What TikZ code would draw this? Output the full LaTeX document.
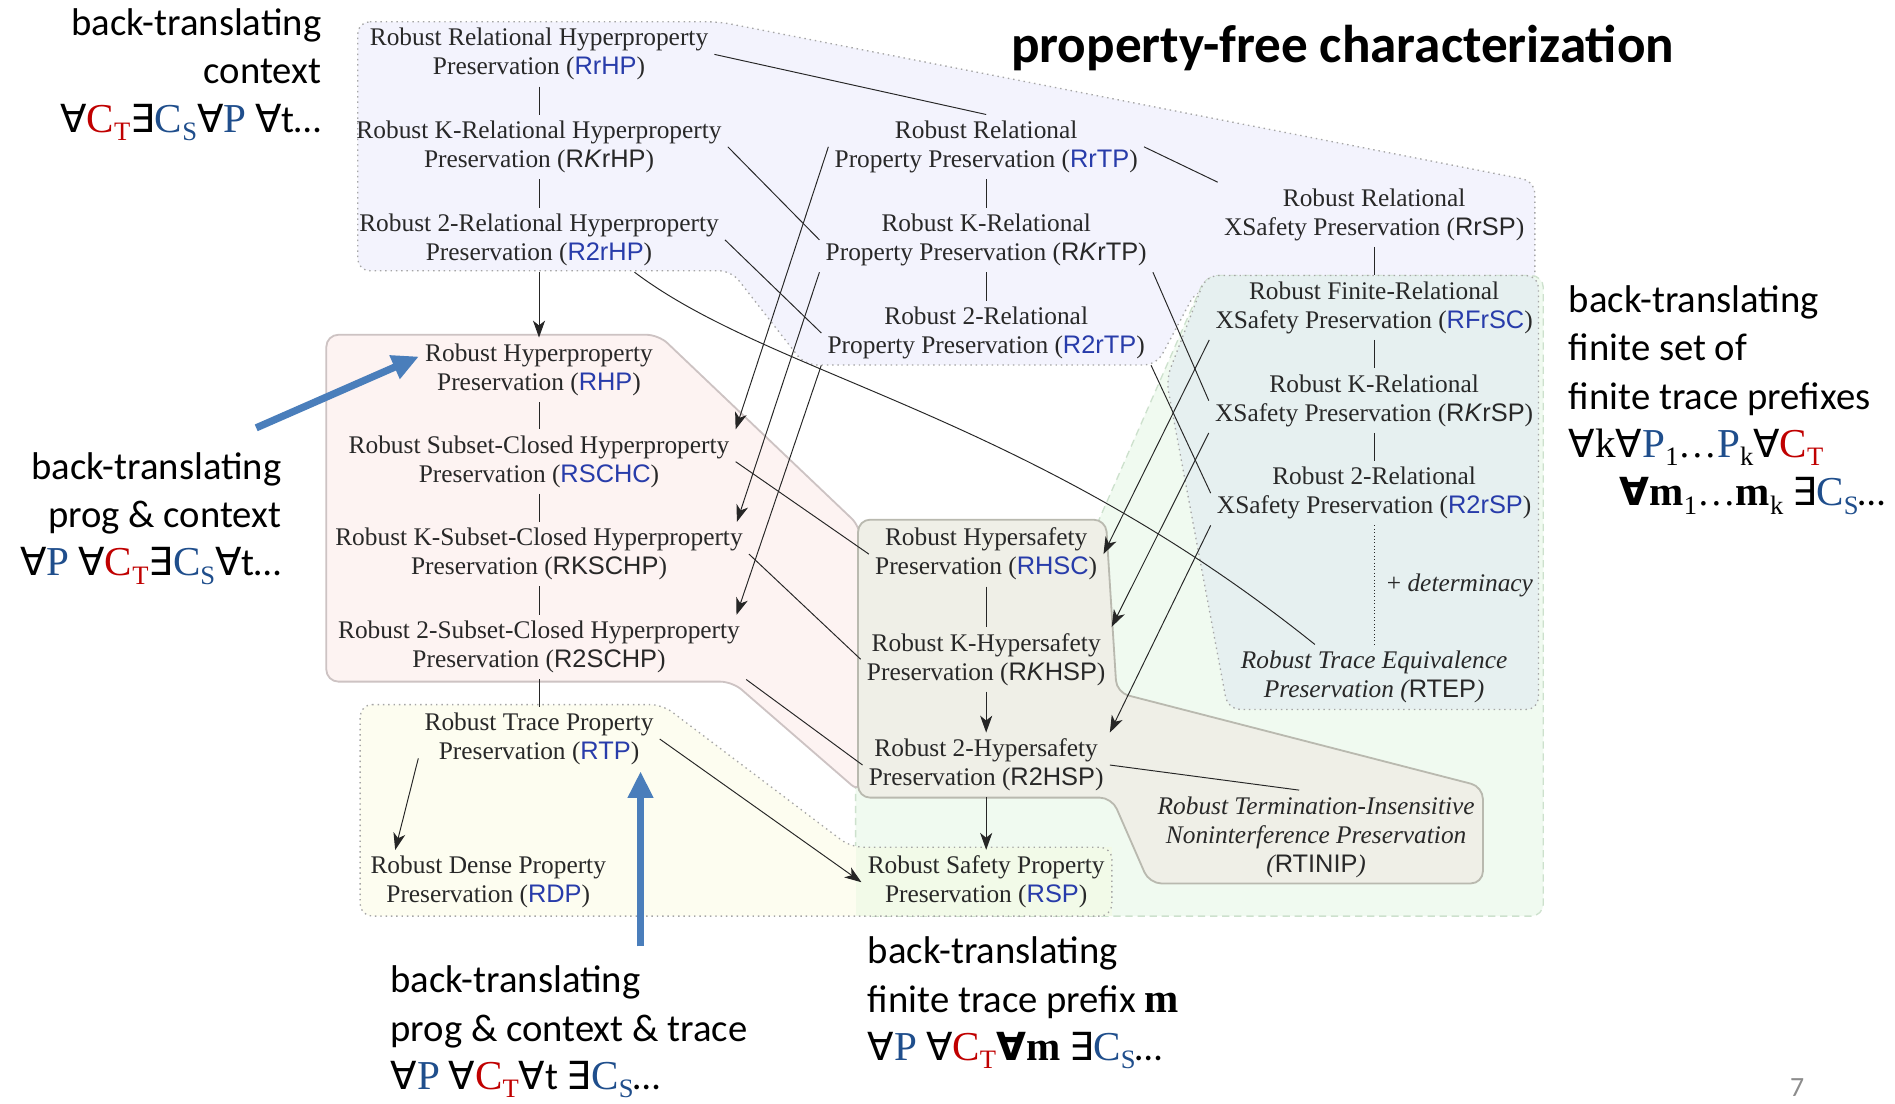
\documentclass[tikz,border=0pt]{standalone}
\usepackage{fontspec}
\usepackage{graphicx}
\setmainfont{Liberation Serif}
\setsansfont{Liberation Sans}
\newfontfamily\calib{Carlito}
\newfontfamily\symf{DejaVu Sans}
\newfontfamily\serif{Liberation Serif}
\usetikzlibrary{arrows.meta}

\definecolor{txt}{RGB}{40,40,40}
\definecolor{acr}{RGB}{40,60,170}
\definecolor{cred}{RGB}{192,0,0}
\definecolor{cblu}{RGB}{31,78,140}
\definecolor{fblue}{RGB}{243,243,253}
\definecolor{fgreen}{RGB}{240,250,240}
\definecolor{fteal}{RGB}{230,240,240}
\definecolor{fpink}{RGB}{253,243,242}
\definecolor{fyel}{RGB}{253,253,240}
\definecolor{frsp}{RGB}{242,250,232}
\definecolor{fgray}{RGB}{239,239,231}
\definecolor{pinkb}{RGB}{205,195,195}
\definecolor{grayb}{RGB}{185,185,175}
\definecolor{greenb}{RGB}{205,225,205}
\definecolor{arrblue}{RGB}{74,126,187}

\newcommand\propfont{\fontsize{21}{24}\selectfont}
\newcommand\acB[1]{{\sffamily\upshape\color{acr}#1}}
\newcommand\acK[1]{{\sffamily\upshape #1}}
\newcommand\qA{{\symf ∀}}
\newcommand\qE{{\symf ∃}}
\newcommand\lowsub[1]{\raisebox{-7pt}{\serif\fontsize{22}{22}\selectfont #1}}
\newcommand\bigser{\serif\fontsize{34}{34}\selectfont}
\newcommand\cT{{\bigser\color{cred}C\lowsub{T}}}
\newcommand\cS{{\bigser\color{cblu}C\lowsub{S}}}
\newcommand\pP{{\bigser\color{cblu}P}}
\newcommand\bm{{\bigser\bfseries m}}

\tikzset{
  prop/.style={align=center, font=\propfont, text=txt, inner sep=5pt, yshift=-2.5pt},
  conn/.style={line width=0.8pt, draw=black!85},
  arr/.style={conn, -{Stealth[length=14pt,width=10pt,inset=4pt]}},
  barr/.style={line width=6pt, draw=arrblue, -{Triangle[length=22pt,width=20pt]}},
  region/.style={rounded corners=10pt, line width=1.1pt},
  dotb/.style={draw=black!35, dash pattern=on 1.2pt off 3.2pt},
  ann/.style={font=\calib\fontsize{32}{40}\selectfont, inner sep=0pt, text=black},
}

\begin{document}
\begin{tikzpicture}[x=1pt,y=-1pt]
\useasboundingbox[fill=white] (0,0) rectangle (1568,913);

% shaded families of criteria
\path[region, fill=fblue, dotb] (296,18) -- (595,18) -- (1270,150) -- (1270,240)
  -- (990,240) -- (957,302) -- (666,302) -- (605,224) -- (296,224) -- cycle;
\path[region, fill=fgreen, draw=greenb, dash pattern=on 6pt off 4pt] (998,228) -- (1277,228)
  -- (1277,758) -- (708,758) -- (708,440) -- (905,440) -- cycle;
\path[region, fill=fteal, dotb] (998,228) -- (1273,228) -- (1273,587) -- (1016,587)
  -- (965,314) -- cycle;
\path[region, fill=fpink, draw=pinkb, line width=1.5pt] (270,277) -- (545,277) -- (712,436)
  -- (712,656) -- (606,564) -- (270,564) -- cycle;
\path[region, fill=fyel] (298,583) -- (548,583) -- (704,701) -- (920,701) -- (920,758)
  -- (298,758) -- cycle;
\fill[frsp] (708,701) rectangle (920,758);
\path[region, dotb] (298,583) -- (548,583) -- (704,701) -- (920,701) -- (920,758)
  -- (298,758) -- cycle;
\path[region, fill=fgray, draw=grayb, line width=1.5pt] (710,430) -- (915,430) -- (924,573)
  -- (1227,651) -- (1227,731) -- (951,731) -- (920,660) -- (710,660) -- cycle;

% criteria
\node[prop] (RrHP) at (446,42.5) {Robust Relational Hyperproperty\\Preservation (\acB{RrHP})};
\node[prop] (RKrHP) at (446,119) {Robust K-Relational Hyperproperty\\Preservation (\acK{R\textit{K}rHP})};
\node[prop] (R2rHP) at (446,196) {Robust 2-Relational Hyperproperty\\Preservation (\acB{R2rHP})};
\node[prop] (RHP) at (446,303.5) {Robust Hyperproperty\\Preservation (\acB{RHP})};
\node[prop] (RSCHC) at (446,379.5) {Robust Subset-Closed Hyperproperty\\Preservation (\acB{RSCHC})};
\node[prop] (RKSCHP) at (446,456) {Robust K-Subset-Closed Hyperproperty\\Preservation (\acK{RKSCHP})};
\node[prop] (R2SCHP) at (446,533) {Robust 2-Subset-Closed Hyperproperty\\Preservation (\acK{R2SCHP})};
\node[prop] (RTP) at (446,609) {Robust Trace Property\\Preservation (\acB{RTP})};
\node[prop] (RDP) at (404,727.5) {Robust Dense Property\\Preservation (\acB{RDP})};
\node[prop] (RrTP) at (816,119) {Robust Relational\\Property Preservation (\acB{RrTP})};
\node[prop] (RKrTP) at (816,196) {Robust K-Relational\\Property Preservation (\acK{R\textit{K}rTP})};
\node[prop] (R2rTP) at (816,273) {Robust 2-Relational\\Property Preservation (\acB{R2rTP})};
\node[prop] (RrSP) at (1137,175) {Robust Relational\\XSafety Preservation (\acK{RrSP})};
\node[prop] (RFrSC) at (1137,252) {Robust Finite-Relational\\XSafety Preservation (\acB{RFrSC})};
\node[prop] (RKrSP) at (1137,329) {Robust K-Relational\\XSafety Preservation (\acK{R\textit{K}rSP})};
\node[prop] (R2rSP) at (1137,405.5) {Robust 2-Relational\\XSafety Preservation (\acB{R2rSP})};
\node[prop, font=\propfont\itshape] (RTEP) at (1137,557.5) {Robust Trace Equivalence\\Preservation (\acK{RTEP})};
\node[prop] (RHSC) at (816,456) {Robust Hypersafety\\Preservation (\acB{RHSC})};
\node[prop] (RKHSP) at (816,543) {Robust K-Hypersafety\\Preservation (\acK{R\textit{K}HSP})};
\node[prop] (R2HSP) at (816,630.5) {Robust 2-Hypersafety\\Preservation (\acK{R2HSP})};
\node[prop] (RSP) at (816,727.5) {Robust Safety Property\\Preservation (\acB{RSP})};
\node[prop, font=\propfont\itshape] (RTINIP) at (1089,690) {Robust Termination-Insensitive\\Noninterference Preservation\\(\acK{RTINIP})};
\node[prop] (det) at (1208,482) {+ \textit{determinacy}};

% implications
\draw[conn] (RrHP) -- (RKrHP);
\draw[conn] (RKrHP) -- (R2rHP);
\draw[arr] (R2rHP) -- (RHP);
\draw[conn] (RHP) -- (RSCHC);
\draw[conn] (RSCHC) -- (RKSCHP);
\draw[conn] (RKSCHP) -- (R2SCHP);
\draw[conn] (R2SCHP) -- (RTP);
\draw[arr] ([yshift=-16pt]RTP.west) -- ([xshift=-77pt]RDP.north);
\draw[arr] (RTP.east) -- (RSP.west);
\draw[conn] (RrHP.east) -- (RrTP.north);
\draw[conn] (RrTP) -- (RKrTP);
\draw[conn] (RKrTP) -- (R2rTP);
\draw[conn] (RrTP.east) -- (RrSP.north west);
\draw[conn] (RrSP) -- (RFrSC);
\draw[conn] (RFrSC) -- (RKrSP);
\draw[conn] (RKrSP) -- (R2rSP);
\draw[conn, dotted] (R2rSP) -- (RTEP);
\draw[conn] (RKrHP.east) -- (RKrTP.west);
\draw[conn] (R2rHP.east) -- (R2rTP.west);
\draw[arr] (RrTP.west) -- (RSCHC.north east);
\draw[arr] (RKrTP.south west) -- ([xshift=-10pt]RKSCHP.north east);
\draw[arr] (R2rTP.south west) -- ([xshift=-8pt]R2SCHP.north east);
\draw[conn] (RSCHC.east) -- (RHSC.west);
\draw[conn] (RKSCHP.east) -- (RKHSP.west);
\draw[conn] (R2SCHP.south east) -- (R2HSP.west);
\draw[conn] (RHSC) -- (RKHSP);
\draw[arr] (RKHSP) -- (R2HSP);
\draw[arr] (R2HSP) -- (RSP);
\draw[conn] (R2HSP.east) -- ([xshift=-14pt]RTINIP.north);
\draw[conn] ([xshift=79pt]R2rHP.south) .. controls (640,312) and (850,342) .. ([xshift=-49pt]RTEP.north);
\draw[conn] (RKrTP.south east) -- (RKrSP.west);
\draw[conn] (R2rTP.south east) -- (R2rSP.west);
\draw[arr] (RFrSC.south west) -- (RHSC.east);
\draw[arr] (RKrSP.south west) -- (RKHSP.north east);
\draw[arr] (R2rSP.south west) -- (R2HSP.north east);

% annotations
\node[font=\calib\bfseries\fontsize{44}{44}\selectfont, inner sep=0pt] (title) at (1111,40) {property-free characterization};
\node[ann, anchor=north east, align=right] (nTL) at (266,7) {back-translating\\context\\\qA\cT\qE\cS\qA\pP\ \qA t…};
\node[ann, anchor=north east, align=right] (nL) at (233,374) {back-translating\\prog \& context\\\qA\pP\ \qA\cT\qE\cS\qA t…};
\node[ann, anchor=north west, align=left] (nR) at (1298,236) {back-translating\\finite set of\\finite trace prefixes\\\qA{\bigser k}\qA\pP\lowsub{1}{\serif…}\pP\lowsub{k}\qA\cT\\\hspace*{42pt}{\symf\bfseries ∀}\bm\lowsub{1}{\serif…}\bm\lowsub{k} \qE\cS…};
\node[ann, anchor=north west, align=left] (nBL) at (323,799) {back-translating\\prog \& context \& trace\\\qA\pP\ \qA\cT\qA t \qE\cS…};
\node[ann, anchor=north west, align=left] (nBM) at (718,775) {back-translating\\finite trace prefix \bm\\\qA\pP\ \qA\cT{\symf\bfseries ∀}\bm\ \qE\cS…};
\node[font=\calib\fontsize{23}{23}\selectfont, text=black!45] (pg) at (1487,900) {7};

% thick pointers
\coordinate (bl1) at (212,354);
\draw[barr] (bl1) -- ([yshift=11pt]RHP.west);
\coordinate (bl2) at (530,783);
\draw[barr] (bl2) -- ([xshift=84pt]RTP.south);
\end{tikzpicture}
\end{document}
